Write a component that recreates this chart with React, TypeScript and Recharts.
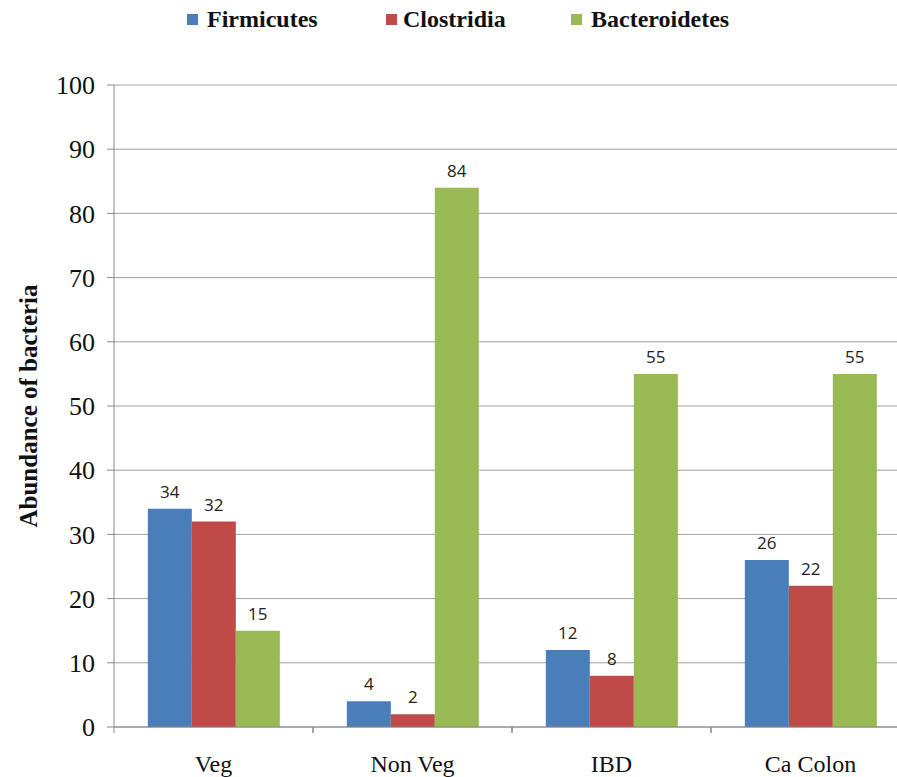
import { BarChart, Bar, XAxis, YAxis, CartesianGrid, LabelList, Label } from "recharts";

const groups = ["Veg", "Non Veg", "IBD", "Ca Colon"];
const firmicutes = [34, 4, 12, 26];
const clostridia = [32, 2, 8, 22];
const bacteroidetes = [15, 84, 55, 55];
const yTicks = [0, 10, 20, 30, 40, 50, 60, 70, 80, 90, 100];

const series = [
    { key: "firmicutes", name: "Firmicutes", color: "#4a7ebb" },
    { key: "clostridia", name: "Clostridia", color: "#be4b48" },
    { key: "bacteroidetes", name: "Bacteroidetes", color: "#98b954" },
];

const data = groups.map((g, i) => ({
    group: g,
    firmicutes: firmicutes[i],
    clostridia: clostridia[i],
    bacteroidetes: bacteroidetes[i],
}));

const serif = "'Liberation Serif', 'Times New Roman', serif";
const W = 897;
const H = 777;
// the plot runs a little past the right edge, the frame crops it
const CHART_W = 920;
const M = { top: 85, right: 10, bottom: 0, left: 0 };
const Y_AXIS_W = 114;
const bandHalf = (CHART_W - M.left - M.right - Y_AXIS_W) / groups.length / 2;

// category label plus small ticks on the band edges
function GroupTick(props: any) {
    const { x, y, payload } = props;
    return (
        <g>
            <line x1={x - bandHalf} x2={x - bandHalf} y1={y} y2={y + 6} stroke="#888" />
            <line x1={x + bandHalf} x2={x + bandHalf} y1={y} y2={y + 6} stroke="#888" />
            <text x={x} y={y + 45} textAnchor="middle" fontFamily={serif} fontSize={24} fill="#111">
                {payload.value}
            </text>
        </g>
    );
}

function TopLegend() {
    const swatchX = [187, 386, 571];
    const textX = [207, 403, 591];
    return (
        <div style={{ position: "absolute", left: 0, top: 0, width: W, height: 40 }}>
            {series.map((s, i) => (
                <div key={s.key}>
                    <span style={{ position: "absolute", left: swatchX[i], top: 14, width: 11, height: 11, background: s.color }} />
                    <span
                        style={{
                            position: "absolute",
                            left: textX[i],
                            top: 5,
                            lineHeight: "28px",
                            fontFamily: serif,
                            fontWeight: "bold",
                            fontSize: 24,
                            color: "#111",
                        }}
                    >
                        {s.name}
                    </span>
                </div>
            ))}
        </div>
    );
}

export default function App() {
    return (
        <div style={{ position: "relative", width: W, height: H, overflow: "hidden", background: "#fff" }}>
            <style>{"body{margin:0}"}</style>
            <TopLegend />
            <BarChart width={CHART_W} height={H} data={data} margin={M} barCategoryGap="17%" barGap={0}>
                <CartesianGrid vertical={false} stroke="#a0a0a0" />
                <XAxis
                    dataKey="group"
                    height={50}
                    stroke="#888"
                    tickLine={false}
                    tickSize={0}
                    tickMargin={0}
                    tick={<GroupTick />}
                    interval={0}
                />
                <YAxis
                    width={Y_AXIS_W}
                    domain={[0, 100]}
                    ticks={yTicks}
                    stroke="#888"
                    tickSize={7}
                    tickMargin={12}
                    tick={{ fontFamily: serif, fontSize: 26, fill: "#111" }}
                >
                    <Label
                        value="Abundance of bacteria"
                        angle={-90}
                        position="insideLeft"
                        offset={28}
                        style={{ textAnchor: "middle", fontFamily: serif, fontWeight: "bold", fontSize: 25, fill: "#111" }}
                    />
                </YAxis>
                {series.map((s) => (
                    <Bar key={s.key} dataKey={s.key} name={s.name} fill={s.color} isAnimationActive={false}>
                        <LabelList
                            dataKey={s.key}
                            position="top"
                            offset={11}
                            style={{ fontFamily: "'Open Sans', sans-serif", fontSize: 17, fill: "#222" }}
                        />
                    </Bar>
                ))}
            </BarChart>
        </div>
    );
}
